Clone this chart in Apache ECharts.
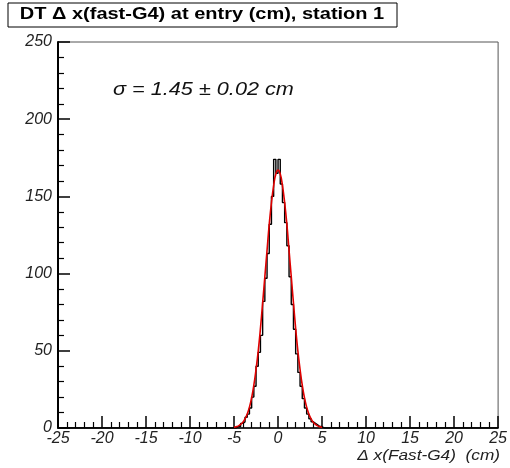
<!DOCTYPE html>
<html>
<head>
<meta charset="utf-8">
<script src="https://cdn.jsdelivr.net/npm/echarts@6/dist/echarts.min.js"></script>
<style>html,body{margin:0;padding:0;background:#fff}#c{width:510px;height:468px}</style>
</head>
<body>
<div id="c"></div>
<script>
// Histogram bin lower edges (cm) and counts
var binLow = [-5.00,-4.75,-4.50,-4.25,-4.00,-3.75,-3.50,-3.25,-3.00,-2.75,-2.50,-2.25,-2.00,-1.75,-1.50,-1.25,-1.00,-0.75,-0.50,-0.25,
              0.00,0.25,0.50,0.75,1.00,1.25,1.50,1.75,2.00,2.25,2.50,2.75,3.00,3.25,3.50,3.75,4.00,4.25,4.50,4.75,5.00,5.25];
var counts = [0,1,1,3,4,7,9,13,20,27,40,49,60,82,97,113,132,150,174,165,
              174,158,146,133,118,98,80,64,48,36,27,19,13,9,6,4,3,2,1,1,0,0];
var binUpperEnd = 5.50;
// Gaussian fit curve
var fitX = [-5.0,-4.75,-4.5,-4.25,-4.0,-3.75,-3.5,-3.25,-3.0,-2.75,-2.5,-2.25,-2.0,-1.75,-1.5,-1.25,-1.0,-0.75,-0.5,-0.25,
            0.0,0.25,0.5,0.75,1.0,1.25,1.5,1.75,2.0,2.25,2.5,2.75,3.0,3.25,3.5,3.75,4.0,4.25,4.5,4.75,5.0];
var fitY = [0.4,0.8,1.4,2.3,3.7,5.9,9.1,13.5,19.6,27.7,38,50,64.5,81,98,115,132,146,157,164.5,
            167,164.5,157,146,132,115,98,81,64.5,50,38,27.7,19.6,13.5,9.1,5.9,3.7,2.3,1.4,0.8,0.4];
var xTicks = [-25,-20,-15,-10,-5,0,5,10,15,20,25];
var yTicks = [0,50,100,150,200,250];
var titleText = 'DT \u0394 x(fast-G4) at entry (cm), station 1';
var fitText = '\u03c3 = 1.45 \u00b1 0.02 cm';
var xTitle = '\u0394 x(Fast-G4)  (cm)';

var histData = [[-25, 0]];
for (var i = 0; i < binLow.length; i++) histData.push([binLow[i], counts[i]]);
histData.push([binUpperEnd, 0]);
histData.push([25, 0]);
var fitData = fitX.map(function (x, i) { return [x, fitY[i]]; });

var font = 'Liberation Sans, Arial, Helvetica, sans-serif';
var chart = echarts.init(document.getElementById('c'));
chart.setOption({
  animation: false,
  backgroundColor: '#fff',
  grid: { left: 58, right: 10, top: 42, bottom: 40, show: true, borderColor: '#555', borderWidth: 1, backgroundColor: 'transparent' },
  xAxis: {
    type: 'value', min: xTicks[0], max: xTicks[xTicks.length - 1], interval: 5,
    axisLine: { show: true, onZero: false, lineStyle: { color: '#000', width: 1.5 } },
    axisTick: { show: true, inside: true, length: 12, lineStyle: { color: '#000', width: 1.5 } },
    minorTick: { show: true, splitNumber: 5, length: 6, lineStyle: { color: '#000', width: 1.2 } },
    splitLine: { show: false },
    axisLabel: { fontFamily: font, fontStyle: 'italic', fontSize: 16, color: '#222', margin: 3 }
  },
  yAxis: {
    type: 'value', min: yTicks[0], max: yTicks[yTicks.length - 1], interval: 50,
    axisLine: { show: true, onZero: false, lineStyle: { color: '#000', width: 2 } },
    axisTick: { show: true, inside: true, length: 12, lineStyle: { color: '#000', width: 1.5 } },
    minorTick: { show: true, splitNumber: 5, length: 6, lineStyle: { color: '#000', width: 1.2 } },
    splitLine: { show: false },
    axisLabel: { fontFamily: font, fontStyle: 'italic', fontSize: 16, color: '#222', margin: 6 }
  },
  series: [
    { type: 'line', data: histData, step: 'end', symbol: 'none', lineStyle: { color: '#000', width: 1.4 }, z: 2 },
    { type: 'line', data: fitData, smooth: true, symbol: 'none', lineStyle: { color: '#e00000', width: 1.6 }, z: 3 }
  ],
  graphic: [
    { type: 'rect', shape: { x: 8, y: 3, width: 389, height: 24 }, style: { fill: '#fff', stroke: '#000', lineWidth: 1 } },
    { type: 'text', x: 202, y: 15, scaleX: 1.25, style: { text: titleText, font: 'bold 16px ' + font, fill: '#000', textAlign: 'center', textVerticalAlign: 'middle' } },
    { type: 'text', x: 113, y: 90, scaleX: 1.14, style: { text: fitText, font: 'italic 19px ' + font, fill: '#111', textAlign: 'left', textVerticalAlign: 'middle' } },
    { type: 'text', x: 500, y: 456, scaleX: 1.15, style: { text: xTitle, font: 'italic 15px ' + font, fill: '#222', textAlign: 'right', textVerticalAlign: 'middle' } }
  ]
});
</script>
</body>
</html>
